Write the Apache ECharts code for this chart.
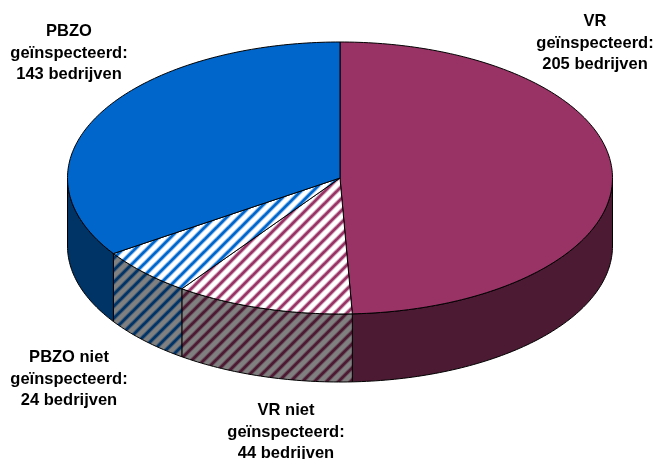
<!DOCTYPE html>
<html>
<head>
<meta charset="utf-8">
<script src="https://cdn.jsdelivr.net/npm/echarts@6/dist/echarts.min.js"></script>
<style>
  html, body { margin: 0; background: #fff; }
  #chart { width: 654px; height: 459px; }
</style>
</head>
<body>
<div id="chart"></div>
<script>
const categories = ['VR geïnspecteerd', 'VR niet geïnspecteerd', 'PBZO niet geïnspecteerd', 'PBZO geïnspecteerd']
const companies = [205, 44, 24, 143]
const labelLines = [
  ['VR', 'geïnspecteerd:', '205 bedrijven'],
  ['VR niet', 'geïnspecteerd:', '44 bedrijven'],
  ['PBZO niet', 'geïnspecteerd:', '24 bedrijven'],
  ['PBZO', 'geïnspecteerd:', '143 bedrijven']
]

const CX = 340, CY = 178, RX = 272.5, RY = 136, DEPTH = 68
const total = companies.reduce((a, b) => a + b, 0)

const labelPos = [[595, 43], [286, 432], [69, 379], [69, 53]]

// background + stripe colour, 45 degree tile with a soft edge like the scan
const hatch = (bg, stripe) => {
  const size = 12
  const c = document.createElement('canvas')
  c.width = c.height = size
  const g = c.getContext('2d')
  g.fillStyle = bg
  g.fillRect(0, 0, size, size)
  g.strokeStyle = stripe
  const passes = [[4.4, 0.4], [2.6, 1]]
  passes.forEach(([width, alpha]) => {
    g.lineWidth = width
    g.globalAlpha = alpha
    for (let o = -size; o <= size; o += size) {
      g.beginPath()
      g.moveTo(o - 2, size + 2)
      g.lineTo(o + size + 2, -2)
      g.stroke()
    }
  })
  return { image: c, repeat: 'repeat' }
}

const tops = ['#993366', hatch('#ffffff', '#993366'), hatch('#ffffff', '#0066cc'), '#0066cc']
const walls = ['#4d1a33', hatch('#808080', '#4d1a33'), hatch('#808080', '#003366'), '#003366']

const rimPoint = (deg, dy) => {
  const t = deg * Math.PI / 180
  return [CX + RX * Math.sin(t), CY - RY * Math.cos(t) + dy]
}

const arc = (from, to, dy) => {
  const pts = []
  const n = Math.max(2, Math.ceil(Math.abs(to - from)))
  for (let i = 0; i <= n; i++) pts.push(rimPoint(from + (to - from) * i / n, dy))
  return pts
}

const lineStyle = { stroke: '#000', lineWidth: 1 }

const renderItem = (params, api) => {
  const i = params.dataIndex
  const before = companies.slice(0, i).reduce((a, b) => a + b, 0)
  const start = before / total * 360
  const end = start + api.value(0) / total * 360
  const children = []

  // only the front half of the rim shows a wall
  const wallFrom = Math.max(start, 90)
  const wallTo = Math.min(end, 270)
  if (wallTo > wallFrom) {
    children.push({
      type: 'polygon',
      shape: { points: arc(wallFrom, wallTo, 0).concat(arc(wallTo, wallFrom, DEPTH)) },
      style: { fill: walls[i], ...lineStyle }
    })
  }

  children.push({
    type: 'polygon',
    shape: { points: [[CX, CY]].concat(arc(start, end, 0)) },
    style: { fill: tops[i], ...lineStyle }
  })

  children.push({
    type: 'text',
    x: labelPos[i][0],
    y: labelPos[i][1],
    style: {
      text: labelLines[i].join('\n'),
      fill: '#000',
      font: 'bold 16.5px "Liberation Sans", Arial, sans-serif',
      lineHeight: 21.5,
      align: 'center',
      verticalAlign: 'middle'
    }
  })

  return { type: 'group', children }
}

const chart = echarts.init(document.getElementById('chart'))
chart.setOption({
  backgroundColor: '#fff',
  animation: false,
  series: [{
    type: 'custom',
    coordinateSystem: 'none',
    renderItem,
    data: companies.map((v, i) => ({ name: categories[i], value: [v] }))
  }]
})
</script>
</body>
</html>
